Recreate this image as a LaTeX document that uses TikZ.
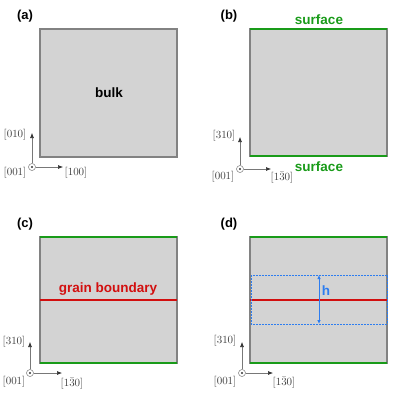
\documentclass[tikz,border=0pt]{standalone}
\usepackage{fontspec}
\newfontfamily\lab{Liberation Sans}
\usetikzlibrary{arrows.meta}
\definecolor{sqfill}{RGB}{211,211,211}
\definecolor{sqborder}{RGB}{130,130,130}
\definecolor{surfgreen}{RGB}{25,155,25}
\definecolor{gbred}{RGB}{210,15,15}
\definecolor{hblue}{RGB}{45,125,240}
\definecolor{axgray}{RGB}{120,120,120}
\tikzset{
  sq/.style={fill=sqfill,draw=sqborder,line width=1.3pt},
  ptag/.style={font=\lab\bfseries\fontsize{13}{13}\selectfont,inner sep=0pt},
  bigtxt/.style={font=\lab\bfseries\fontsize{13.5}{13.5}\selectfont,inner sep=0pt},
  axline/.style={draw=axgray,line width=0.6pt,-{Latex[length=5pt,width=4pt,color=black!80]}},
  axlab/.style={font=\fontsize{10.5}{10.5}\selectfont,text=black!75,inner sep=0pt},
  origin/.style={circle,draw=axgray,line width=0.5pt,fill=white,minimum size=7pt,inner sep=0pt,
    path picture={\fill[black!80] (path picture bounding box.center) circle (1.1pt);}},
  greenline/.style={draw=surfgreen,line width=1.5pt},
  redline/.style={draw=gbred,line width=2.4pt},
  hbox/.style={draw=hblue,line width=1pt,dash pattern=on 2pt off 1pt},
}
\begin{document}
\begin{tikzpicture}[x=1pt,y=-1pt]
\useasboundingbox (0,0) rectangle (399,399);
% ---------- (a)
\node[ptag] (ta) at (25,16) {(a)};
\draw[sq] (40,29) rectangle (177,157);
\node[bigtxt] (bulk) at (109,93) {bulk};
\node[origin] (oa) at (32,167) {};
\coordinate (ua) at (32,133);
\coordinate (ra) at (63,167);
\draw[axline] (oa) -- (ua);
\draw[axline] (oa) -- (ra);
\node[axlab] (la1) at (15,135) {$[010]$};
\node[axlab] (la2) at (15,173) {$[001]$};
\node[axlab] (la3) at (76,173) {$[100]$};
% ---------- (b)
\node[ptag] (tb) at (229,16) {(b)};
\draw[sq] (250,29) rectangle (387,156);
\draw[greenline] (250,29) -- (387,29);
\draw[greenline] (250,156) -- (387,156);
\node[bigtxt,text=surfgreen] (s1) at (319,20) {surface};
\node[bigtxt,text=surfgreen] (s2) at (319,167) {surface};
\node[origin] (ob) at (240,169) {};
\coordinate (ub) at (240,137);
\coordinate (rb) at (271,169);
\draw[axline] (ob) -- (ub);
\draw[axline] (ob) -- (rb);
\node[axlab] (lb1) at (224,136) {$[310]$};
\node[axlab] (lb2) at (223,177) {$[001]$};
\node[axlab] (lb3) at (282,178) {$[1\bar{3}0]$};
% ---------- (c)
\node[ptag] (tc) at (25,224) {(c)};
\draw[sq] (40,237) rectangle (177,363);
\draw[greenline] (40,237) -- (177,237);
\draw[greenline] (40,363) -- (177,363);
\draw[redline] (40,300) -- (177,300);
\node[bigtxt,text=gbred] (gb) at (108,289) {grain boundary};
\node[origin] (oc) at (30,373) {};
\coordinate (uc) at (30,342);
\coordinate (rc) at (62,373);
\draw[axline] (oc) -- (uc);
\draw[axline] (oc) -- (rc);
\node[axlab] (lc1) at (14,342) {$[310]$};
\node[axlab] (lc2) at (14,382) {$[001]$};
\node[axlab] (lc3) at (72,384) {$[1\bar{3}0]$};
% ---------- (d)
\node[ptag] (td) at (229,224) {(d)};
\draw[sq] (250,237) rectangle (387,363);
\draw[greenline] (250,237) -- (387,237);
\draw[greenline] (250,363) -- (387,363);
\draw[redline] (250,300) -- (387,300);
\draw[hbox] (251,275) rectangle (387,324);
\coordinate (htop) at (319,275);
\coordinate (hbot) at (319,324);
\draw[hblue,line width=0.9pt,{Latex[length=4pt,width=3.5pt]}-{Latex[length=4pt,width=3.5pt]}] (htop) -- (hbot);
\node[bigtxt,text=hblue] (hl) at (326,291) {h};
\node[origin] (od) at (242,373) {};
\coordinate (ud) at (242,342);
\coordinate (rd) at (273,373);
\draw[axline] (od) -- (ud);
\draw[axline] (od) -- (rd);
\node[axlab] (ld1) at (225,341) {$[310]$};
\node[axlab] (ld2) at (225,382) {$[001]$};
\node[axlab] (ld3) at (284,383) {$[1\bar{3}0]$};
\end{tikzpicture}
\end{document}
